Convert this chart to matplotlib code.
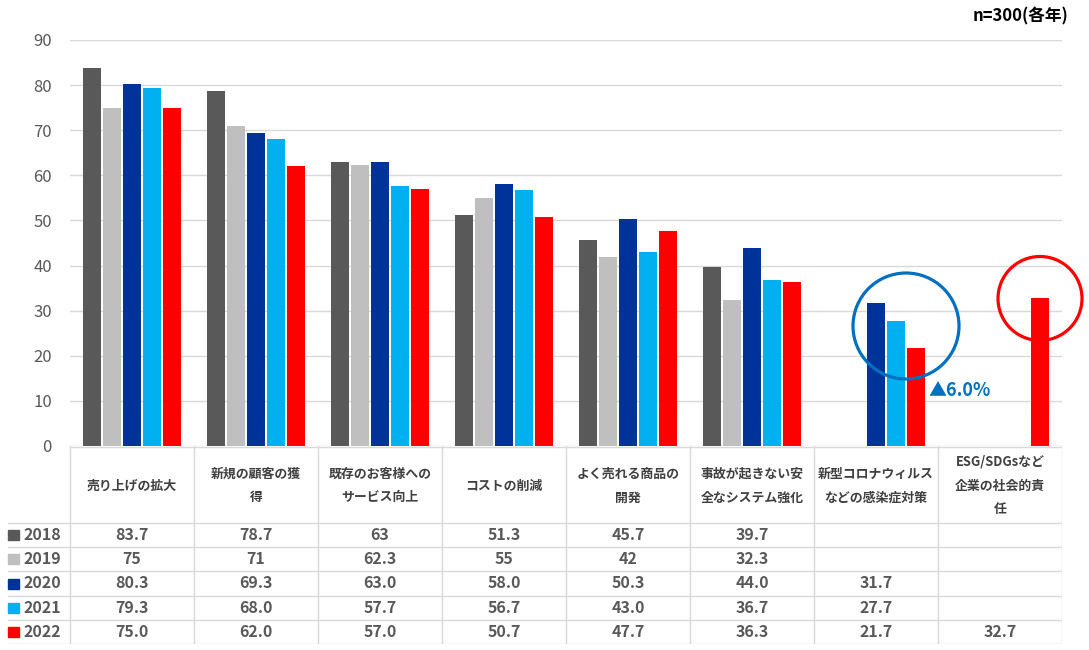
import matplotlib
matplotlib.use('Agg')
import matplotlib.pyplot as plt
from matplotlib.patches import Ellipse, Rectangle

plt.rcParams['font.family'] = ['Noto Sans CJK JP', 'DejaVu Sans']

# data
categories = ['売り上げの拡大', '新規の顧客の獲\n得', '既存のお客様への\nサービス向上', 'コストの削減',
              'よく売れる商品の\n開発', '事故が起きない安\n全なシステム強化', '新型コロナウィルス\nなどの感染症対策',
              'ESG/SDGsなど\n企業の社会的責\n任']
years = ['2018', '2019', '2020', '2021', '2022']
v2018 = [83.7, 78.7, 63, 51.3, 45.7, 39.7, None, None]
v2019 = [75, 71, 62.3, 55, 42, 32.3, None, None]
v2020 = [80.3, 69.3, 63.0, 58.0, 50.3, 44.0, 31.7, None]
v2021 = [79.3, 68.0, 57.7, 56.7, 43.0, 36.7, 27.7, None]
v2022 = [75.0, 62.0, 57.0, 50.7, 47.7, 36.3, 21.7, 32.7]
series = [v2018, v2019, v2020, v2021, v2022]
# first two years are shown without trailing .0 in the source table
fmts = ['{:g}', '{:g}', '{:.1f}', '{:.1f}', '{:.1f}']
colors = ['#595959', '#BFBFBF', '#003399', '#00B0F0', '#FF0000']

text_c = '#595959'
grid_c = '#D9D9D9'

W, H = 1089, 650
fig = plt.figure(figsize=(W / 100, H / 100), dpi=100)

# main bar chart
ax = fig.add_axes([70 / W, (H - 446) / H, 992 / W, 406 / H])
step = 20 / 124
bw = 18 / 124
for i, vals in enumerate(series):
    xs = [j + (i - 2) * step for j, v in enumerate(vals) if v is not None]
    ys = [v for v in vals if v is not None]
    ax.bar(xs, ys, width=bw, color=colors[i], zorder=3)

ax.set_xlim(-0.5, len(categories) - 0.5)
ax.set_ylim(0, 90)
ax.set_yticks(range(0, 91, 10))
ax.set_xticks([])
ax.tick_params(axis='y', length=0, pad=13, labelsize=12, labelcolor=text_c)
ax.grid(axis='y', color=grid_c, linewidth=1, zorder=0)
for s in ax.spines.values():
    s.set_visible(False)

# highlight circles
px_x = 124
px_y = 406 / 90
ax.add_patch(Ellipse((6 + 1.5 * step, 26.6), 106 / px_x, 106 / px_y, fill=False,
                     edgecolor='#0070C0', linewidth=2.3, zorder=4, clip_on=False))
ax.add_patch(Ellipse((7 + 2 * step, v2022[7]), 84 / px_x, 84 / px_y, fill=False,
                     edgecolor='#FF0000', linewidth=2.3, zorder=4, clip_on=False))
ax.text(6 + 2 * step + 0.1, 12.4, '▲6.0%', color='#0070C0', fontsize=13,
        fontweight='bold', ha='left', va='center')

fig.text(1068 / W, 1 - 16 / H, 'n=300(各年)', ha='right', va='center',
         fontsize=12, fontweight='bold', color='black')

# data table
row_h = 24.2
head_h = 77
tab = fig.add_axes([0, (H - 644) / H, 1062 / W, 198 / H])
left = -0.5 - 70 / 124
tab.set_xlim(left, len(categories) - 0.5)
tab.set_ylim(198, 0)
tab.axis('off')

n = len(categories)
# vertical lines
for k in range(n + 1):
    tab.plot([k - 0.5, k - 0.5], [0, 198], color=grid_c, linewidth=1)
# horizontal lines
tab.plot([-0.5, n - 0.5], [0.5, 0.5], color=grid_c, linewidth=1)
for r in range(len(years) + 1):
    y = head_h + r * row_h
    tab.plot([left + 8 / 124, n - 0.5], [y, y], color=grid_c, linewidth=1)

for j, c in enumerate(categories):
    tab.text(j, head_h / 2 + 1, c, ha='center', va='center', fontsize=9.3,
             fontweight='bold', color='#404040', linespacing=1.9)

for i, vals in enumerate(series):
    yc = head_h + (i + 0.5) * row_h
    tab.add_patch(Rectangle((left + 8 / 124, yc - 5), 11 / 124, 10,
                            color=colors[i], clip_on=False))
    tab.text(left + 23 / 124, yc, years[i], ha='left', va='center', fontsize=11.5,
             fontweight='bold', color=text_c)
    for j, v in enumerate(vals):
        if v is not None:
            tab.text(j, yc, fmts[i].format(v), ha='center', va='center',
                     fontsize=11.5, fontweight='bold', color=text_c)

fig.savefig('out.png', dpi=100)
